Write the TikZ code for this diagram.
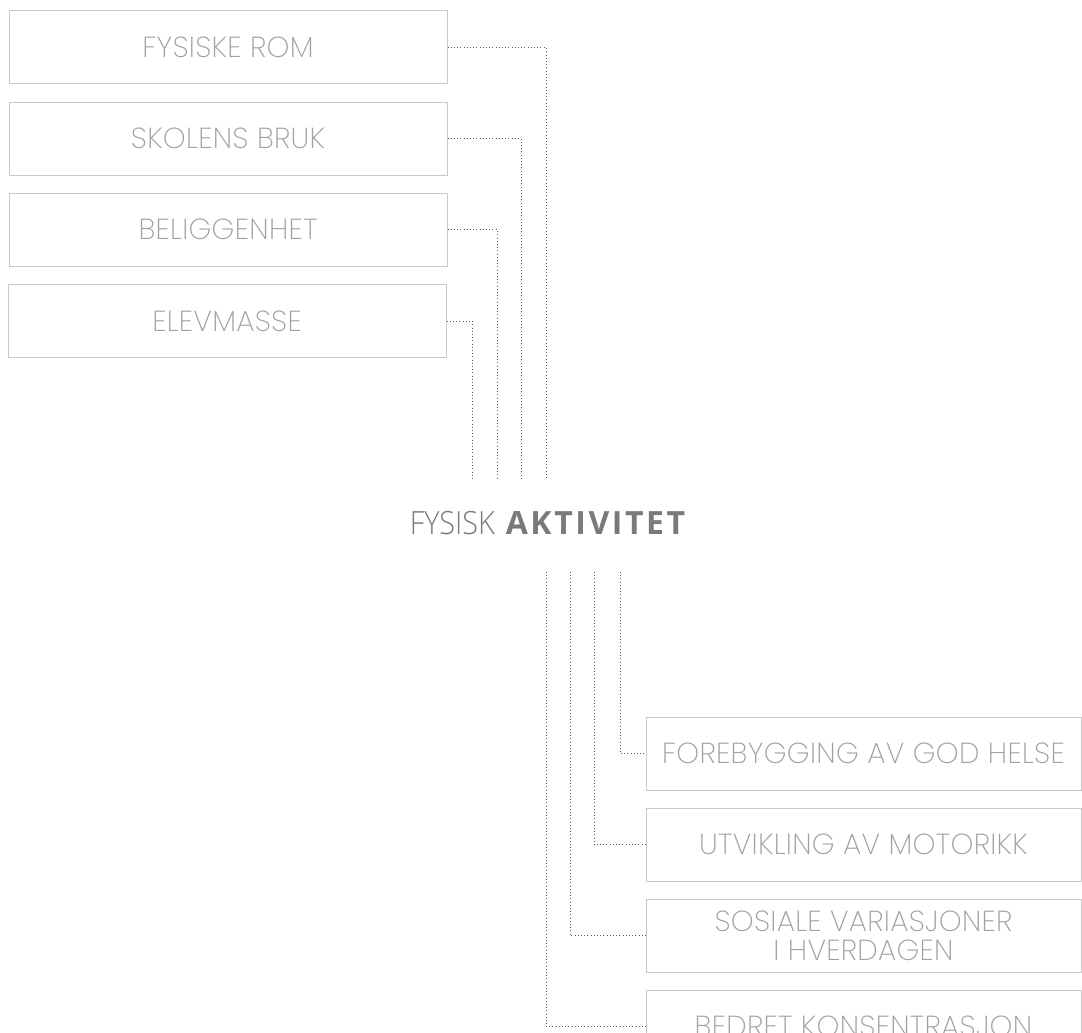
\documentclass[tikz,border=0pt]{standalone}
\usepackage{fontspec}
\setmainfont{Poppins}
\IfFontExistsTF{Poppins ExtraLight}{\newfontfamily\boxfont{Poppins ExtraLight}[LetterSpace=1]}{%
 \IfFontExistsTF{Poppins Light}{\newfontfamily\boxfont{Poppins Light}[LetterSpace=1]}{%
  \IfFontExistsTF{Lato Light}{\newfontfamily\boxfont{Lato Light}[LetterSpace=6]}{%
   \newfontfamily\boxfont{Poppins}[LetterSpace=1]}}}
\IfFontExistsTF{Open Sans Light}{\newfontfamily\titlelight{Open Sans Light}[FakeStretch=0.9]}{%
  \newfontfamily\titlelight{Open Sans}[FakeStretch=0.9]}
\newfontfamily\titlebold{Open Sans Bold}[LetterSpace=8]
\definecolor{boxline}{HTML}{C8C8C8}
\definecolor{boxtext}{HTML}{A0A0A0}
\definecolor{dotline}{HTML}{5A5A5A}
\definecolor{titlecol}{HTML}{7A7A7A}
\tikzset{
  itembox/.style={draw=boxline, line width=1pt, minimum width=438pt, minimum height=73pt,
    inner sep=0pt, text=boxtext, font=\boxfont\fontsize{29}{29}\selectfont, align=center},
  dotconn/.style={draw=dotline, line width=1pt, dash pattern=on 1pt off 2.2pt}
}
\begin{document}
\begin{tikzpicture}[x=1pt,y=1pt]
\useasboundingbox (0,0) rectangle (1082,-1033);
\clip (0,0) rectangle (1082,-1033);
% top boxes
\node[itembox] (b1) at (228,-47.5) {FYSISKE ROM};
\node[itembox] (b2) at (228,-138.5) {SKOLENS BRUK};
\node[itembox] (b3) at (228,-229.5) {BELIGGENHET};
\node[itembox] (b4) at (227,-321) {ELEVMASSE};
% title
\node[text=titlecol, inner sep=0pt] (title) at (547.5,-523.5)
  {\fontsize{32}{34}\selectfont\titlelight FYSISK\hspace{11pt}\titlebold AKTIVITET};
% bottom boxes
\node[itembox, minimum width=435pt] (c1) at (863.5,-753.5) {FOREBYGGING AV GOD HELSE};
\node[itembox, minimum width=435pt] (c2) at (863.5,-844.5) {UTVIKLING AV MOTORIKK};
\node[itembox, minimum width=435pt] (c3) at (863.5,-935.5) {SOSIALE VARIASJONER\\ I HVERDAGEN};
\node[itembox, minimum width=435pt] (c4) at (863.5,-1026.5) {BEDRET KONSENTRASJON};
% coordinates
\coordinate (t1) at (546,-479);
\coordinate (t2) at (521,-479);
\coordinate (t3) at (497,-479);
\coordinate (t4) at (472,-479);
\coordinate (u1) at (620,-572);
\coordinate (u2) at (594,-572);
\coordinate (u3) at (570,-572);
\coordinate (u4) at (546,-572);
% connectors
\draw[dotconn] (b1.east) -| (t1);
\draw[dotconn] (b2.east) -| (t2);
\draw[dotconn] (b3.east) -| (t3);
\draw[dotconn] (b4.east) -| (t4);
\draw[dotconn] (u1) |- (c1.west);
\draw[dotconn] (u2) |- (c2.west);
\draw[dotconn] (u3) |- (c3.west);
\draw[dotconn] (u4) |- (c4.west);
\end{tikzpicture}
\end{document}
